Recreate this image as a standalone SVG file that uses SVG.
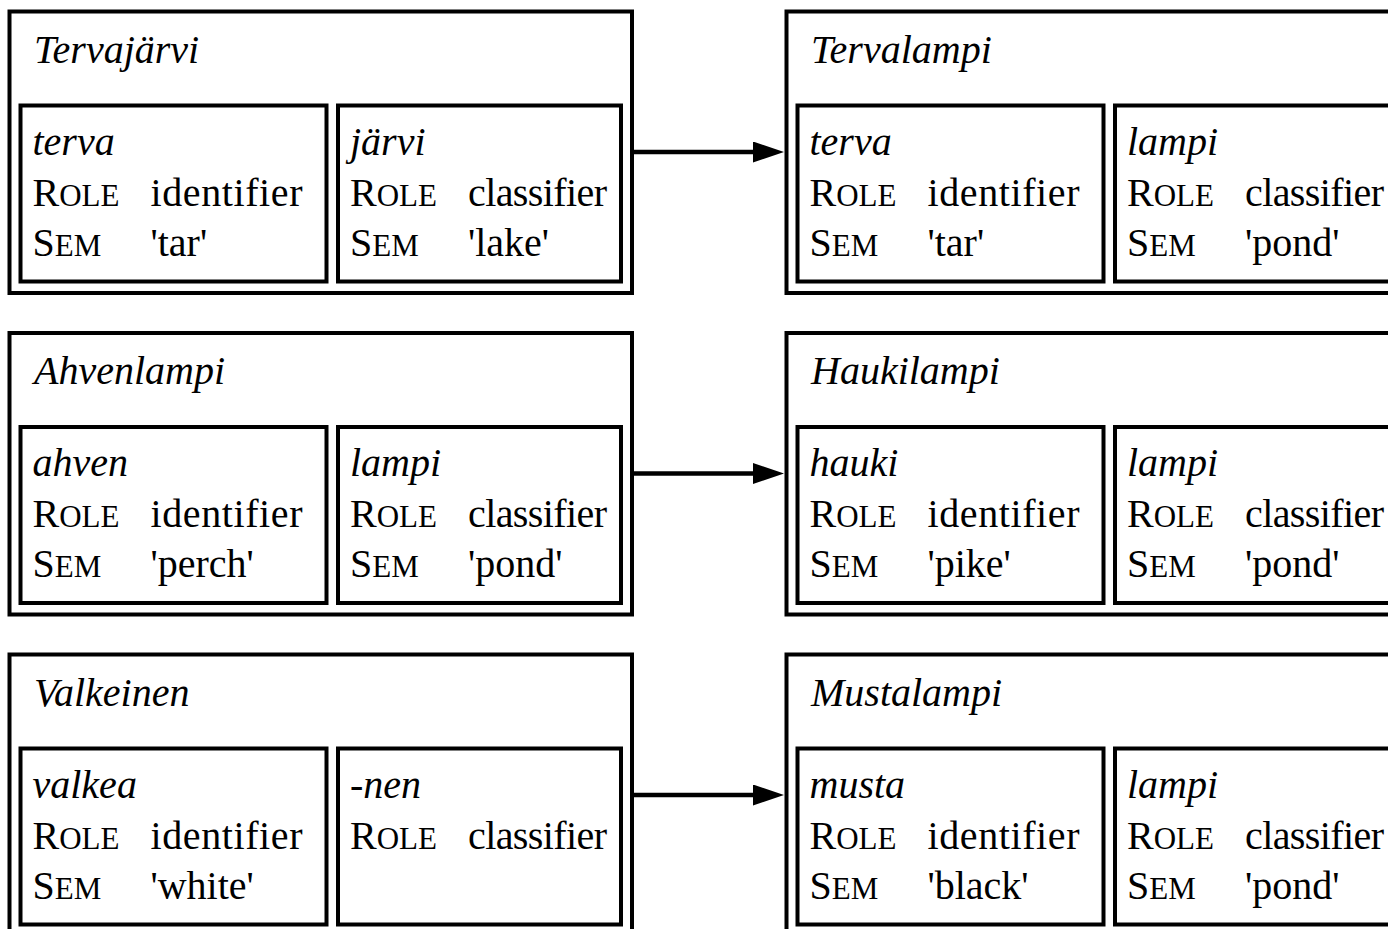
<svg xmlns="http://www.w3.org/2000/svg" width="1388" height="929" viewBox="0 0 1388 929">
<style>
  .outer, .inner { fill: #fff; stroke: #000; stroke-width: 4; }
  text { font-family: "Liberation Serif", "DejaVu Serif", serif; font-size: 40px; fill: #000; }
  .title, .form { font-style: italic; }
  .sc { font-size: 31px; }
  .conn { stroke: #000; stroke-width: 4.5; fill: none; marker-end: url(#arrow); }
</style>
<defs>
  <marker id="arrow" markerUnits="userSpaceOnUse" markerWidth="32" markerHeight="22" refX="3" refY="10.5" orient="auto">
    <path d="M0,0 L31,10.5 L0,21 Z" fill="#000"/>
  </marker>
</defs>
<rect width="1388" height="929" fill="#fff"/>

<!-- Row 1 -->
<g id="tervajarvi" transform="translate(0,0)">
  <rect class="outer" x="9.5" y="11.5" width="622.5" height="281.5"/>
  <text class="title" x="34" y="62.5">Tervajärvi</text>
  <g id="tervajarvi-terva">
    <rect class="inner" x="20.5" y="105.5" width="306" height="176"/>
    <text class="form" x="32.5" y="154.5">terva</text>
    <text x="32.5" y="205.5">R<tspan class="sc">OLE</tspan></text>
    <text x="150.5" y="205.5" textLength="152" lengthAdjust="spacing">identifier</text>
    <text x="32.5" y="255.5">S<tspan class="sc">EM</tspan></text>
    <text x="150.5" y="255.5">'tar'</text>
  </g>
  <g id="tervajarvi-jarvi">
    <rect class="inner" x="338" y="105.5" width="283" height="176"/>
    <text class="form" x="350" y="154.5">järvi</text>
    <text x="350" y="205.5">R<tspan class="sc">OLE</tspan></text>
    <text x="468" y="205.5" textLength="139" lengthAdjust="spacing">classifier</text>
    <text x="350" y="255.5">S<tspan class="sc">EM</tspan></text>
    <text x="468" y="255.5">'lake'</text>
  </g>
</g>

<g id="tervalampi" transform="translate(777,0)">
  <rect class="outer" x="9.5" y="11.5" width="622.5" height="281.5"/>
  <text class="title" x="34" y="62.5">Tervalampi</text>
  <g id="tervalampi-terva">
    <rect class="inner" x="20.5" y="105.5" width="306" height="176"/>
    <text class="form" x="32.5" y="154.5">terva</text>
    <text x="32.5" y="205.5">R<tspan class="sc">OLE</tspan></text>
    <text x="150.5" y="205.5" textLength="152" lengthAdjust="spacing">identifier</text>
    <text x="32.5" y="255.5">S<tspan class="sc">EM</tspan></text>
    <text x="150.5" y="255.5">'tar'</text>
  </g>
  <g id="tervalampi-lampi">
    <rect class="inner" x="338" y="105.5" width="283" height="176"/>
    <text class="form" x="350" y="154.5">lampi</text>
    <text x="350" y="205.5">R<tspan class="sc">OLE</tspan></text>
    <text x="468" y="205.5" textLength="139" lengthAdjust="spacing">classifier</text>
    <text x="350" y="255.5">S<tspan class="sc">EM</tspan></text>
    <text x="468" y="255.5">'pond'</text>
  </g>
</g>

<!-- Row 2 -->
<g id="ahvenlampi" transform="translate(0,321.5)">
  <rect class="outer" x="9.5" y="11.5" width="622.5" height="281.5"/>
  <text class="title" x="34" y="62.5">Ahvenlampi</text>
  <g id="ahvenlampi-ahven">
    <rect class="inner" x="20.5" y="105.5" width="306" height="176"/>
    <text class="form" x="32.5" y="154.5">ahven</text>
    <text x="32.5" y="205.5">R<tspan class="sc">OLE</tspan></text>
    <text x="150.5" y="205.5" textLength="152" lengthAdjust="spacing">identifier</text>
    <text x="32.5" y="255.5">S<tspan class="sc">EM</tspan></text>
    <text x="150.5" y="255.5">'perch'</text>
  </g>
  <g id="ahvenlampi-lampi">
    <rect class="inner" x="338" y="105.5" width="283" height="176"/>
    <text class="form" x="350" y="154.5">lampi</text>
    <text x="350" y="205.5">R<tspan class="sc">OLE</tspan></text>
    <text x="468" y="205.5" textLength="139" lengthAdjust="spacing">classifier</text>
    <text x="350" y="255.5">S<tspan class="sc">EM</tspan></text>
    <text x="468" y="255.5">'pond'</text>
  </g>
</g>

<g id="haukilampi" transform="translate(777,321.5)">
  <rect class="outer" x="9.5" y="11.5" width="622.5" height="281.5"/>
  <text class="title" x="34" y="62.5">Haukilampi</text>
  <g id="haukilampi-hauki">
    <rect class="inner" x="20.5" y="105.5" width="306" height="176"/>
    <text class="form" x="32.5" y="154.5">hauki</text>
    <text x="32.5" y="205.5">R<tspan class="sc">OLE</tspan></text>
    <text x="150.5" y="205.5" textLength="152" lengthAdjust="spacing">identifier</text>
    <text x="32.5" y="255.5">S<tspan class="sc">EM</tspan></text>
    <text x="150.5" y="255.5">'pike'</text>
  </g>
  <g id="haukilampi-lampi">
    <rect class="inner" x="338" y="105.5" width="283" height="176"/>
    <text class="form" x="350" y="154.5">lampi</text>
    <text x="350" y="205.5">R<tspan class="sc">OLE</tspan></text>
    <text x="468" y="205.5" textLength="139" lengthAdjust="spacing">classifier</text>
    <text x="350" y="255.5">S<tspan class="sc">EM</tspan></text>
    <text x="468" y="255.5">'pond'</text>
  </g>
</g>

<!-- Row 3 -->
<g id="valkeinen" transform="translate(0,643)">
  <rect class="outer" x="9.5" y="11.5" width="622.5" height="281.5"/>
  <text class="title" x="34" y="62.5">Valkeinen</text>
  <g id="valkeinen-valkea">
    <rect class="inner" x="20.5" y="105.5" width="306" height="176"/>
    <text class="form" x="32.5" y="154.5">valkea</text>
    <text x="32.5" y="205.5">R<tspan class="sc">OLE</tspan></text>
    <text x="150.5" y="205.5" textLength="152" lengthAdjust="spacing">identifier</text>
    <text x="32.5" y="255.5">S<tspan class="sc">EM</tspan></text>
    <text x="150.5" y="255.5">'white'</text>
  </g>
  <g id="valkeinen-nen">
    <rect class="inner" x="338" y="105.5" width="283" height="176"/>
    <text class="form" x="350" y="154.5">-nen</text>
    <text x="350" y="205.5">R<tspan class="sc">OLE</tspan></text>
    <text x="468" y="205.5" textLength="139" lengthAdjust="spacing">classifier</text>
  </g>
</g>

<g id="mustalampi" transform="translate(777,643)">
  <rect class="outer" x="9.5" y="11.5" width="622.5" height="281.5"/>
  <text class="title" x="34" y="62.5">Mustalampi</text>
  <g id="mustalampi-musta">
    <rect class="inner" x="20.5" y="105.5" width="306" height="176"/>
    <text class="form" x="32.5" y="154.5">musta</text>
    <text x="32.5" y="205.5">R<tspan class="sc">OLE</tspan></text>
    <text x="150.5" y="205.5" textLength="152" lengthAdjust="spacing">identifier</text>
    <text x="32.5" y="255.5">S<tspan class="sc">EM</tspan></text>
    <text x="150.5" y="255.5">'black'</text>
  </g>
  <g id="mustalampi-lampi">
    <rect class="inner" x="338" y="105.5" width="283" height="176"/>
    <text class="form" x="350" y="154.5">lampi</text>
    <text x="350" y="205.5">R<tspan class="sc">OLE</tspan></text>
    <text x="468" y="205.5" textLength="139" lengthAdjust="spacing">classifier</text>
    <text x="350" y="255.5">S<tspan class="sc">EM</tspan></text>
    <text x="468" y="255.5">'pond'</text>
  </g>
</g>

<g id="connectors">
  <line class="conn" x1="634" y1="152" x2="756" y2="152"/>
  <line class="conn" x1="634" y1="473.5" x2="756" y2="473.5"/>
  <line class="conn" x1="634" y1="795" x2="756" y2="795"/>
</g>
</svg>
